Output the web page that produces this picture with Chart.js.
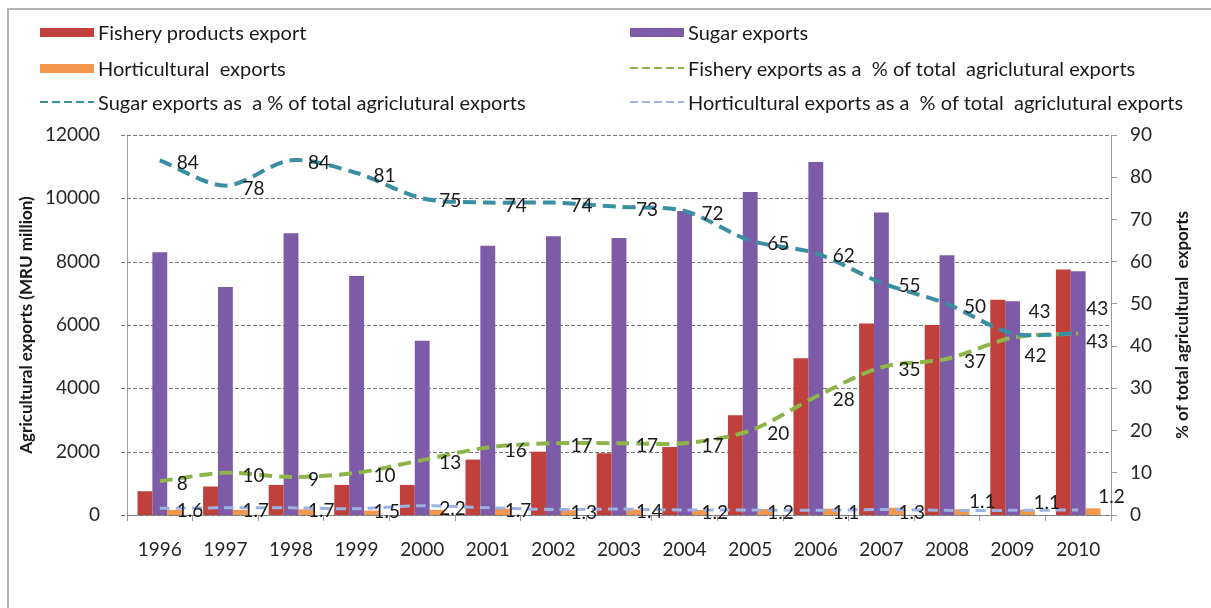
<!DOCTYPE html>
<html>
<head>
<meta charset="utf-8">
<script src="https://cdn.jsdelivr.net/npm/chart.js@4.4.1/dist/chart.umd.min.js"></script>
<style>
  body { margin: 0; background: #fff; }
  #wrap { position: relative; width: 1211px; height: 608px; overflow: hidden; font-family: Lato, "Open Sans", sans-serif; }
  #frame { position: absolute; left: 7px; top: 8px; width: 1300px; height: 700px; border-left: 2px solid #b4b4b4; border-top: 2px solid #b4b4b4; }
  #canvas { position: absolute; left: 0; top: 0; }
  .leg { position: absolute; display: flex; align-items: center; height: 24px; font-size: 20px; color: #1a1a1a; white-space: pre; }
  .sw { display: inline-block; width: 54px; margin-right: 4px; }
  .sw.bar { height: 9px; }
  .sw.line { height: 2px; }
</style>
</head>
<body>
<div id="wrap">
  <div id="frame"></div>
  <canvas id="canvas" width="1211" height="608"></canvas>
  <div id="legend"></div>
</div>
<script>
// categories
const years = ['1996', '1997', '1998', '1999', '2000', '2001', '2002', '2003', '2004', '2005', '2006', '2007', '2008', '2009', '2010'];

// bars, MRU million (left axis)
const fisheryExports = [750, 900, 950, 950, 950, 1750, 2000, 1950, 2150, 3150, 4950, 6050, 6000, 6800, 7750];
const sugarExports = [8300, 7200, 8900, 7550, 5500, 8500, 8800, 8750, 9600, 10200, 11150, 9550, 8200, 6750, 7700];
const horticulturalExports = [160, 160, 180, 140, 160, 200, 150, 170, 160, 190, 200, 230, 180, 170, 210];

// lines, % of total agricultural exports (right axis)
const fisheryPct = [8, 10, 9, 10, 13, 16, 17, 17, 17, 20, 28, 35, 37, 42, 43];
const sugarPct = [84, 78, 84, 81, 75, 74, 74, 73, 72, 65, 62, 55, 50, 43, 43];
const horticulturalPct = [1.6, 1.7, 1.7, 1.5, 2.2, 1.7, 1.3, 1.4, 1.2, 1.2, 1.1, 1.3, 1.1, 1.1, 1.2];

// axis ticks
const leftTicks = [0, 2000, 4000, 6000, 8000, 10000, 12000];
const rightTicks = [0, 10, 20, 30, 40, 50, 60, 70, 80, 90];

const colors = {
  fishery: '#c0403b',
  sugar: '#7d5ba6',
  horti: '#f2974b',
  fisheryLine: '#8fb54a',
  sugarLine: '#3a8ea2',
  hortiLine: '#9db2e0',
  grid: '#777777'
};

const FONT = 'Lato, "Open Sans", sans-serif';

// excel put most labels right of the point, a few were dragged by hand
const labelNudge = {
  sugar: { 13: [16, -22], 14: [8, -25] },
  fishery: { 13: [12, 18], 14: [8, 8] },
  horti: { 12: [22, -8], 13: [21, -7], 14: [20, -13] }
};

const legendItems = [
  { text: 'Fishery products export', kind: 'bar', color: colors.fishery, col: 0, row: 0 },
  { text: 'Sugar exports', kind: 'bar', color: colors.sugar, col: 1, row: 0 },
  { text: 'Horticultural  exports', kind: 'bar', color: colors.horti, col: 0, row: 1 },
  { text: 'Fishery exports as a  % of total  agriclutural exports', kind: 'line', color: colors.fisheryLine, col: 1, row: 1 },
  { text: 'Sugar exports as  a % of total agriclutural exports', kind: 'line', color: colors.sugarLine, col: 0, row: 2 },
  { text: 'Horticultural exports as a  % of total  agriclutural exports', kind: 'line', color: colors.hortiLine, col: 1, row: 2 }
];

// html legend, two columns like the excel one
const legend = document.getElementById('legend');
const colX = [40, 630];
const rowY = [20, 56, 90];
legendItems.forEach(item => {
  const div = document.createElement('div');
  div.className = 'leg';
  div.style.left = colX[item.col] + 'px';
  div.style.top = rowY[item.row] + 'px';
  const sw = document.createElement('span');
  sw.className = 'sw ' + item.kind;
  if (item.kind === 'bar') {
    sw.style.background = item.color;
  } else {
    sw.style.background = 'repeating-linear-gradient(90deg, ' + item.color + ' 0 8px, transparent 8px 12px)';
  }
  div.appendChild(sw);
  div.appendChild(document.createTextNode(item.text));
  legend.appendChild(div);
});

// dotted horizontal gridlines of the left axis, with the little tick stub left of the axis
const dottedGrid = {
  id: 'dottedGrid',
  beforeDatasetsDraw(chart) {
    const ctx = chart.ctx;
    const a = chart.chartArea;
    const scale = chart.scales.y;
    ctx.save();
    ctx.strokeStyle = colors.grid;
    ctx.lineWidth = 1;
    ctx.setLineDash([4, 2]);
    scale.ticks.forEach(t => {
      const y = Math.round(scale.getPixelForValue(t.value)) + 0.5;
      ctx.beginPath();
      ctx.moveTo(a.left - 6, y);
      ctx.lineTo(a.right, y);
      ctx.stroke();
    });
    ctx.restore();
  }
};

const dataLabels = {
  id: 'dataLabels',
  afterDatasetsDraw(chart) {
    const ctx = chart.ctx;
    ctx.save();
    ctx.font = '19px ' + FONT;
    ctx.fillStyle = '#1a1a1a';
    ctx.textAlign = 'left';
    ctx.textBaseline = 'middle';
    chart.data.datasets.forEach((ds, i) => {
      if (ds.type !== 'line') return;
      const meta = chart.getDatasetMeta(i);
      meta.data.forEach((pt, j) => {
        const v = ds.data[j];
        const txt = ds.key === 'horti' ? v.toFixed(1) : String(v);
        const n = (labelNudge[ds.key] || {})[j] || [17, 3];
        ctx.fillText(txt, pt.x + n[0], pt.y + n[1]);
      });
    });
    ctx.restore();
  }
};

// right axis title reads bottom to top in the original
const rightTitle = {
  id: 'rightTitle',
  afterDraw(chart) {
    const ctx = chart.ctx;
    const a = chart.chartArea;
    ctx.save();
    ctx.translate(1183, (a.top + a.bottom) / 2);
    ctx.rotate(-Math.PI / 2);
    ctx.font = 'bold 17px ' + FONT;
    ctx.fillStyle = '#1a1a1a';
    ctx.textAlign = 'center';
    ctx.textBaseline = 'middle';
    ctx.fillText('% of total agricultural  exports', 0, 0);
    ctx.restore();
  }
};

function barSet(label, data, color) {
  return {
    type: 'bar', label: label, data: data, backgroundColor: color,
    borderWidth: 0, yAxisID: 'y', order: 1,
    categoryPercentage: 0.68, barPercentage: 1.0
  };
}

function lineSet(key, label, data, color, width, dash) {
  return {
    type: 'line', key: key, label: label, data: data, borderColor: color,
    borderWidth: width, borderDash: dash, borderCapStyle: 'butt',
    pointRadius: 0, tension: 0.3, fill: false, yAxisID: 'y1', order: 0
  };
}

const config = {
  data: {
    labels: years,
    datasets: [
      lineSet('sugar', 'Sugar exports as a % of total agriclutural exports', sugarPct, colors.sugarLine, 4, [13, 7]),
      lineSet('fishery', 'Fishery exports as a % of total agriclutural exports', fisheryPct, colors.fisheryLine, 4, [13, 7]),
      lineSet('horti', 'Horticultural exports as a % of total agriclutural exports', horticulturalPct, colors.hortiLine, 3, [10, 6]),
      barSet('Fishery products export', fisheryExports, colors.fishery),
      barSet('Sugar exports', sugarExports, colors.sugar),
      barSet('Horticultural exports', horticulturalExports, colors.horti)
    ]
  },
  options: {
    responsive: false,
    animation: false,
    devicePixelRatio: 1,
    layout: { padding: { left: 12, top: 135, right: 0, bottom: 0 } },
    plugins: {
      legend: { display: false },
      tooltip: { enabled: false }
    },
    scales: {
      x: {
        offset: true,
        grid: { drawOnChartArea: false, drawTicks: true, tickLength: 6, color: '#9a9a9a', offset: true },
        border: { color: '#9a9a9a', width: 1 },
        ticks: { color: '#262626', font: { family: FONT, size: 19 }, padding: 17, maxRotation: 0 },
        afterFit: s => { s.height = 93; }
      },
      y: {
        position: 'left',
        min: leftTicks[0],
        max: leftTicks[leftTicks.length - 1],
        grid: { display: false },
        border: { display: true, color: '#a0a0a0', width: 1 },
        ticks: {
          stepSize: leftTicks[1] - leftTicks[0],
          color: '#262626', font: { family: FONT, size: 19 }, padding: 19,
          callback: v => String(v)
        },
        title: { display: true, text: 'Agricultural exports (MRU million)', color: '#1a1a1a', font: { family: FONT, size: 17, weight: 'bold' }, padding: { top: 4, bottom: 0 } },
        afterFit: s => { s.width = 115; }
      },
      y1: {
        position: 'right',
        min: rightTicks[0],
        max: rightTicks[rightTicks.length - 1],
        grid: { drawOnChartArea: false, drawTicks: true, tickLength: 6, color: '#9a9a9a' },
        border: { color: '#9a9a9a', width: 1 },
        ticks: { stepSize: rightTicks[1] - rightTicks[0], color: '#262626', font: { family: FONT, size: 19 }, padding: 13 },
        afterFit: s => { s.width = 100; }
      }
    }
  },
  plugins: [dottedGrid, dataLabels, rightTitle]
};

window.myChart = new Chart(document.getElementById('canvas'), config);
</script>
</body>
</html>
